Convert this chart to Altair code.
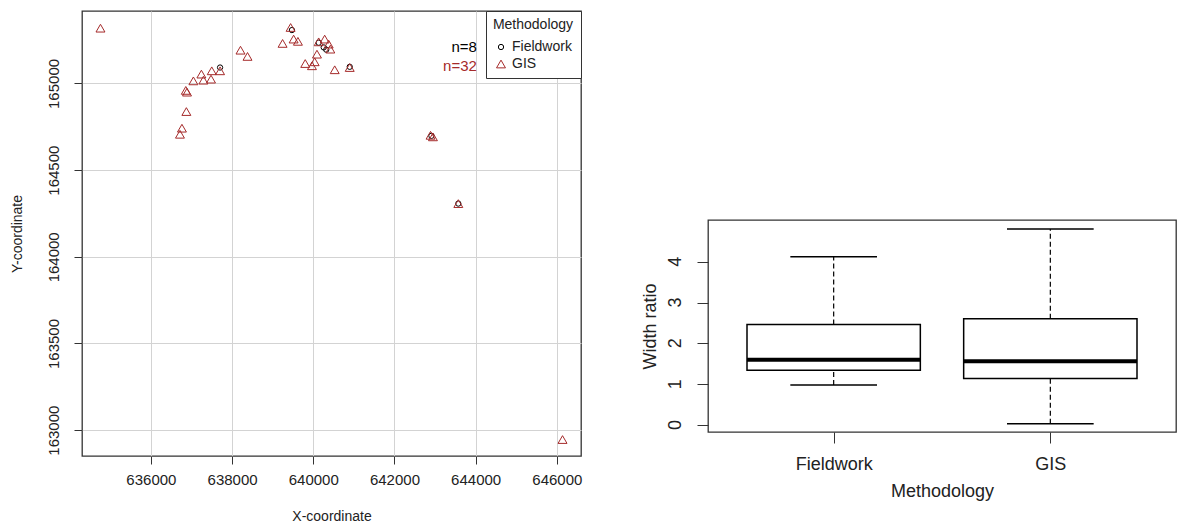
import altair as alt
import pandas as pd

FONT = "Liberation Sans"

# ---------------- scatter data ----------------
fw_x = [639474, 637704, 640133, 640257, 640320, 640898, 643573, 642910]
fw_y = [165308, 165092, 165235, 165208, 165195, 165096, 164307, 164698]

gis_x = [634758, 639442, 639244, 639516, 639622, 638207, 638380, 637704,
         637499, 637244, 637047, 637294, 637481, 636860, 636890, 636874,
         636765, 636716, 639802, 639968, 640034, 640091, 640133, 640281,
         640380, 640420, 640528, 640898, 642889, 642948, 643573, 646140]
gis_y = [165319, 165323, 165231, 165256, 165243, 165192, 165156, 165073,
         165073, 165054, 165015, 165019, 165025, 164960, 164950, 164838,
         164742, 164707, 165115, 165102, 165125, 165169, 165240, 165256,
         165227, 165198, 165079, 165092, 164701, 164692, 164307, 162946]

methods = ["Fieldwork", "GIS"]
method_colors = ["black", "#A52A2A"]
x_ticks = [636000, 638000, 640000, 642000, 644000, 646000]
y_ticks = [163000, 163500, 164000, 164500, 165000]

n_labels = ["n=8", "n=32"]
n_x = [644030, 644030]
n_y = [165212, 165099]

# ---------------- boxplot data ----------------
box_pos = [1, 2]
box_lo = [0.98, 0.03]
box_q1 = [1.34, 1.14]
box_med = [1.60, 1.565]
box_q3 = [2.46, 2.60]
box_hi = [4.12, 4.80]
box_ticks = [0, 1, 2, 3, 4]

pts = pd.DataFrame({
    "X": fw_x + gis_x,
    "Y": fw_y + gis_y,
    "Methodology": ["Fieldwork"] * len(fw_x) + ["GIS"] * len(gis_x),
})

xs = alt.Scale(domain=[634303, 646595], nice=False, zero=False)
ys = alt.Scale(domain=[162851, 165418], nice=False, zero=False)

xa = alt.Axis(values=x_ticks, format="d", title="X-coordinate", grid=True,
              gridColor="#d3d3d3", tickSize=8, labelPadding=8, titlePadding=22,
              labelFontSize=15, titleFontSize=14, domain=False,
              tickColor="#333", labelColor="#222", titleColor="#222")
ya = alt.Axis(values=y_ticks, format="d", title="Y-coordinate", grid=True,
              gridColor="#d3d3d3", tickSize=8, labelPadding=13, titlePadding=22,
              labelAngle=270, labelAlign="center", labelBaseline="bottom",
              labelFontSize=15, titleFontSize=14, domain=False,
              tickColor="#333", labelColor="#222", titleColor="#222")

leg = alt.Legend(title="Methodology", orient="top-right", offset=0,
                 strokeColor="#333", fillColor="white", padding=7,
                 titleFontWeight="normal", titleFontSize=14, labelFontSize=14,
                 titleFont=FONT, labelFont=FONT, titleColor="#222", labelColor="#222",
                 symbolSize=45, symbolStrokeWidth=1, symbolFillColor="transparent",
                 rowPadding=3, titlePadding=8, titleAnchor="middle")

scatter = alt.Chart(pts).mark_point(filled=False, strokeWidth=1, opacity=1).encode(
    x=alt.X("X:Q", scale=xs, axis=xa),
    y=alt.Y("Y:Q", scale=ys, axis=ya),
    color=alt.Color("Methodology:N", scale=alt.Scale(domain=methods, range=method_colors), legend=leg),
    shape=alt.Shape("Methodology:N", scale=alt.Scale(domain=methods, range=["circle", "triangle-up"]), legend=leg),
    size=alt.Size("Methodology:N", scale=alt.Scale(domain=methods, range=[28, 80]), legend=None),
)

ndf = pd.DataFrame({"label": n_labels, "X": n_x, "Y": n_y})
ntexts = []
for i in range(len(n_labels)):
    ntexts.append(
        alt.Chart(ndf.iloc[[i]]).mark_text(align="right", baseline="middle", fontSize=15,
                                           font=FONT, color=method_colors[i]).encode(
            x=alt.X("X:Q", scale=xs, axis=xa),
            y=alt.Y("Y:Q", scale=ys, axis=ya),
            text="label:N",
        )
    )

left = alt.layer(scatter, *ntexts).properties(
    width=499, height=445,
    view=alt.ViewBackground(stroke="#333", strokeWidth=1.3),
)

# ---------------- boxplot ----------------
bdf = pd.DataFrame({"Methodology": methods, "pos": box_pos, "lo": box_lo, "q1": box_q1,
                    "med": box_med, "q3": box_q3, "hi": box_hi})
base = alt.Chart(bdf).transform_calculate(
    bl="datum.pos - 0.4", br="datum.pos + 0.4",
    cl="datum.pos - 0.2", cr="datum.pos + 0.2",
)
bxs = alt.Scale(domain=[0.42, 2.58], nice=False, zero=False)
bys = alt.Scale(domain=[-0.17, 5.02], nice=False, zero=False)
bxa = alt.Axis(values=box_pos, labelExpr="datum.value == 1 ? 'Fieldwork' : 'GIS'",
               title="Methodology", grid=False, tickSize=11, labelPadding=12, titlePadding=9,
               labelFontSize=18, titleFontSize=18, domain=False,
               tickColor="#333", labelColor="#222", titleColor="#222")
bya = alt.Axis(values=box_ticks, title="Width ratio", grid=False, tickSize=11,
               labels=False, titlePadding=37, titleFontSize=18, domain=False,
               tickColor="#333", titleColor="#222")

wh_up = base.mark_rule(color="black", strokeWidth=1.2, strokeDash=[5, 3]).encode(
    x=alt.X("pos:Q", scale=bxs, axis=bxa), y=alt.Y("q3:Q", scale=bys, axis=bya), y2="hi:Q")
wh_lo = base.mark_rule(color="black", strokeWidth=1.2, strokeDash=[5, 3]).encode(
    x=alt.X("pos:Q", scale=bxs, axis=bxa), y=alt.Y("lo:Q", scale=bys, axis=bya), y2="q1:Q")
cap_hi = base.mark_rule(color="black", strokeWidth=1.5).encode(
    x=alt.X("cl:Q", scale=bxs, axis=bxa), x2="cr:Q", y=alt.Y("hi:Q", scale=bys, axis=bya))
cap_lo = base.mark_rule(color="black", strokeWidth=1.5).encode(
    x=alt.X("cl:Q", scale=bxs, axis=bxa), x2="cr:Q", y=alt.Y("lo:Q", scale=bys, axis=bya))
box = base.mark_rect(fill="white", stroke="black", strokeWidth=1.5).encode(
    x=alt.X("bl:Q", scale=bxs, axis=bxa), x2="br:Q",
    y=alt.Y("q1:Q", scale=bys, axis=bya), y2="q3:Q")
med = base.mark_rule(color="black", strokeWidth=4).encode(
    x=alt.X("bl:Q", scale=bxs, axis=bxa), x2="br:Q", y=alt.Y("med:Q", scale=bys, axis=bya))

# rotated tick labels for the width-ratio axis (R style, parallel to the axis)
tdf = pd.DataFrame({"v": box_ticks, "t": [str(v) for v in box_ticks]})
tick_labels = alt.Chart(tdf).mark_text(angle=270, align="center", baseline="middle",
                                        fontSize=18, font=FONT, color="#222").encode(
    x=alt.value(-32),
    y=alt.Y("v:Q", scale=bys, axis=bya),
    text="t:N",
)

right = alt.layer(wh_up, wh_lo, cap_hi, cap_lo, box, med, tick_labels).properties(
    width=468, height=212,
    view=alt.ViewBackground(stroke="#333", strokeWidth=1.3),
)

spacer = alt.Chart(pd.DataFrame({"a": [0]})).mark_point(opacity=0).encode(
    x=alt.value(0), y=alt.value(0)
).properties(width=10, height=196, view=alt.ViewBackground(strokeOpacity=0))

right_col = alt.vconcat(spacer, right, spacing=12)

chart = alt.hconcat(left, right_col, spacing=57).resolve_scale(
    x="independent", y="independent", color="independent", shape="independent", size="independent"
).resolve_legend(color="independent", shape="independent", size="independent").properties(
    padding={"left": 1, "top": 0, "right": 0, "bottom": 0}
).configure_axis(labelFont=FONT, titleFont=FONT, titleFontWeight="normal"
).configure_text(font=FONT)

chart.save("out.html", embed_options={"renderer": "svg", "actions": False})
